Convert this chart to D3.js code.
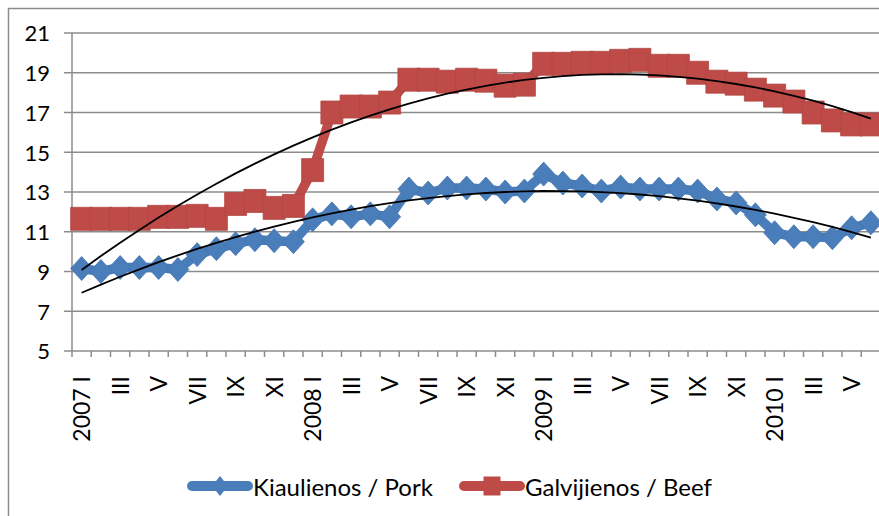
<!DOCTYPE html>
<html>
<head>
<meta charset="utf-8">
<script src="https://cdn.jsdelivr.net/npm/d3@7/dist/d3.min.js"></script>
<style>
  body { margin: 0; background: #fff; }
  svg { display: block; font-family: Lato, "Open Sans", sans-serif; }
</style>
</head>
<body>
<svg id="chart" width="879" height="516"></svg>
<script>
// months 2007 I .. 2010 VI
var years = [2007, 2008, 2009, 2010];
var months = ["I","II","III","IV","V","VI","VII","VIII","IX","X","XI","XII"];
var pork = [9.15, 9.0, 9.2, 9.2, 9.2, 9.1,
            9.85, 10.15, 10.4, 10.6, 10.55, 10.5,
            11.6, 11.9, 11.75, 11.9, 11.75,
            13.15, 12.95, 13.2, 13.2, 13.15, 13.0, 13.05,
            13.9, 13.45, 13.3, 13.05, 13.25, 13.15, 13.15, 13.15, 13.05,
            12.65, 12.45, 11.85, 10.95, 10.75, 10.75, 10.7, 11.2, 11.45];
var beef = [11.65, 11.65, 11.65, 11.65, 11.75, 11.75, 11.8, 11.65,
            12.4, 12.55, 12.2, 12.3,
            14.1, 17.0, 17.3, 17.3, 17.5, 18.65, 18.65, 18.55, 18.65, 18.6, 18.35, 18.4,
            19.45, 19.45, 19.5, 19.5, 19.6, 19.65, 19.35, 19.35, 19.0, 18.55, 18.45, 18.15,
            17.85, 17.55, 17.0, 16.6, 16.4, 16.4];
var yTicks = [5, 7, 9, 11, 13, 15, 17, 19, 21];
var seriesNames = ["Kiaulienos / Pork", "Galvijienos / Beef"];

var categories = [];
years.forEach(function(y) {
  months.forEach(function(m, i) {
    if (categories.length < pork.length) categories.push(i == 0 ? y + " " + m : m);
  });
});

var svg = d3.select("#chart");
var blue = "#4A7EBB", red = "#BE4B48", grid = "#8c8c8c";

// frame
svg.append("rect").attr("x", 8.5).attr("y", 8.5).attr("width", 900).attr("height", 520)
  .attr("fill", "none").attr("stroke", grid).attr("stroke-width", 1.5);

var x = d3.scaleBand().domain(d3.range(categories.length)).range([72, 880.5]).paddingInner(0).paddingOuter(0);
var y = d3.scaleLinear().domain([5, 21]).range([351, 33]);
var cx = function(i) { return x(i) + x.bandwidth() / 2; };

// gridlines + y labels
svg.append("g").selectAll("line").data(yTicks).enter().append("line")
  .attr("x1", 64).attr("x2", 879)
  .attr("y1", function(d) { return y(d); }).attr("y2", function(d) { return y(d); })
  .attr("stroke", grid).attr("stroke-width", 1.5);
svg.append("g").selectAll("text").data(yTicks).enter().append("text")
  .attr("x", 50).attr("y", function(d) { return y(d); }).attr("dy", "0.38em")
  .attr("text-anchor", "end").attr("font-size", 22).attr("fill", "#000")
  .text(function(d) { return d; });

// y axis line
svg.append("line").attr("x1", 72).attr("x2", 72).attr("y1", 33).attr("y2", 351)
  .attr("stroke", grid).attr("stroke-width", 1.5);

// x axis ticks at category boundaries
var bounds = d3.range(categories.length + 1).map(function(i) { return 72 + i * x.bandwidth(); });
svg.append("g").selectAll("line").data(bounds).enter().append("line")
  .attr("x1", function(d) { return d; }).attr("x2", function(d) { return d; })
  .attr("y1", 351).attr("y2", 357).attr("stroke", grid).attr("stroke-width", 1.5);

// x labels (every second month)
svg.append("g").selectAll("text").data(categories.filter(function(c, i) { return i % 2 == 0; }))
  .enter().append("text")
  .attr("transform", function(d, i) { return "translate(" + cx(i * 2) + ",376) rotate(-90)"; })
  .attr("dy", "0.38em").attr("text-anchor", "end").attr("font-size", 23).attr("fill", "#000")
  .text(function(d) { return d; });

function quadFit(vals) {
  // least squares 2nd order polynomial (like the spreadsheet trendline)
  var n = vals.length, s = [0,0,0,0,0], t = [0,0,0];
  vals.forEach(function(v, i) {
    var k = i + 1;
    for (var p = 0; p < 5; p++) s[p] += Math.pow(k, p);
    for (var q = 0; q < 3; q++) t[q] += v * Math.pow(k, q);
  });
  var M = [[s[0], s[1], s[2], t[0]], [s[1], s[2], s[3], t[1]], [s[2], s[3], s[4], t[2]]];
  for (var c = 0; c < 3; c++) {
    for (var r = c + 1; r < 3; r++) {
      var f = M[r][c] / M[c][c];
      for (var j = c; j < 4; j++) M[r][j] -= f * M[c][j];
    }
  }
  var co = [0, 0, 0];
  for (var r2 = 2; r2 >= 0; r2--) {
    var sum = M[r2][3];
    for (var j2 = r2 + 1; j2 < 3; j2++) sum -= M[r2][j2] * co[j2];
    co[r2] = sum / M[r2][r2];
  }
  return vals.map(function(v, i) { var k = i + 1; return co[0] + co[1] * k + co[2] * k * k; });
}

var line = d3.line().x(function(d, i) { return cx(i); }).y(function(d) { return y(d); });
var diamond = function(w, h) { return "M0," + (-h) + "L" + w + ",0L0," + h + "L" + (-w) + ",0Z"; };

function drawSeries(vals, color, kind) {
  var g = svg.append("g");
  g.append("path").attr("d", line(vals)).attr("fill", "none").attr("stroke", color)
    .attr("stroke-width", 9.5).attr("stroke-linejoin", "round");
  g.selectAll(".m").data(vals).enter().append("path")
    .attr("transform", function(d, i) { return "translate(" + cx(i) + "," + y(d) + ")"; })
    .attr("d", kind == "d" ? diamond(11, 12) : "M-11,-11.5H11V11.5H-11Z")
    .attr("fill", color).attr("stroke", d3.color(color).darker(0.2)).attr("stroke-width", 0.8);
}
drawSeries(pork, blue, "d");
drawSeries(beef, red, "s");

// trendlines
[pork, beef].forEach(function(vals) {
  svg.append("path").attr("d", line(quadFit(vals))).attr("fill", "none")
    .attr("stroke", "#000").attr("stroke-width", 1.8);
});

// legend
var legend = [
  {name: seriesNames[0], color: blue, kind: "d", x1: 192, text: 253},
  {name: seriesNames[1], color: red, kind: "s", x1: 464, text: 525}
];
legend.forEach(function(l) {
  var g = svg.append("g");
  g.append("line").attr("x1", l.x1).attr("x2", l.x1 + 56).attr("y1", 486).attr("y2", 486)
    .attr("stroke", l.color).attr("stroke-width", 10).attr("stroke-linecap", "round");
  g.append("path").attr("transform", "translate(" + (l.x1 + 28) + ",486)")
    .attr("d", l.kind == "d" ? diamond(8, 10) : "M-8.5,-9.5H8.5V9.5H-8.5Z").attr("fill", l.color);
  g.append("text").attr("x", l.text).attr("y", 496).attr("font-size", 24).attr("fill", "#000")
    .text(l.name);
});
</script>
</body>
</html>
